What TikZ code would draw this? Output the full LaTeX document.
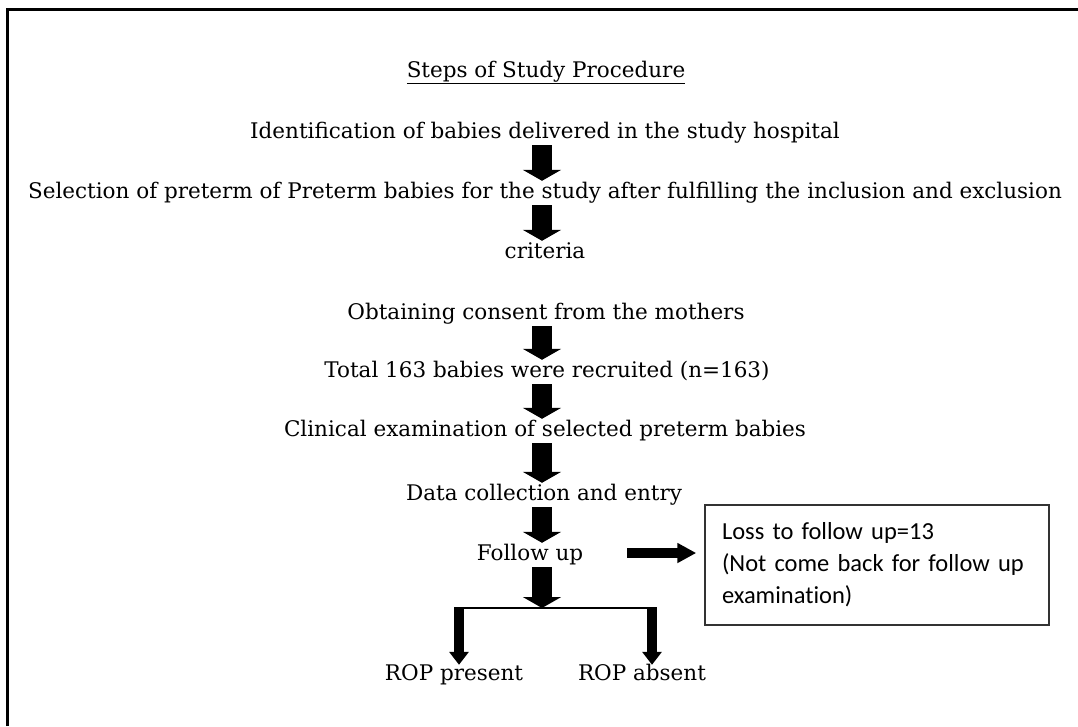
\documentclass[tikz,border=0pt]{standalone}
\usepackage{fontspec}
\setmainfont{DejaVu Serif}
\newfontfamily\boxfont[Ligatures=NoCommon]{Carlito}
\usetikzlibrary{arrows.meta}
\begin{document}
\begin{tikzpicture}[x=1pt,y=-1pt,
  txt/.style={inner sep=0pt, text height=15pt, text depth=5pt, font=\fontsize{21.5}{26}\selectfont},
  fat/.style={line width=20pt, -{Triangle[width=38pt,length=11pt]}, shorten <=2pt, shorten >=2pt},
  branch/.style={line width=9.5pt, -{Triangle[width=19pt,length=13pt]}},
  side/.style={line width=10pt, -{Triangle[width=19pt,length=19pt]}},
  lossbox/.style={draw=black!80, line width=1.5pt, minimum width=344pt, minimum height=120pt,
    inner xsep=17pt, text width=310pt, align=left, font=\boxfont\fontsize{24.5}{32}\selectfont},
]
\useasboundingbox (0,0) rectangle (1078,726);
\fill[white] (0,0) rectangle (1078,726);
\draw[line width=3pt] (7,726) -- (7,9) -- (1078,9);

\coordinate (ax) at (542,0);
\node[txt] (title) at (546,72) {\underline{Steps of Study Procedure}};
\node[txt] (s1) at (545,133) {Identification of babies delivered in the study hospital};
\node[txt] (s2) at (545,193) {Selection of preterm of Preterm babies for the study after fulfilling the inclusion and exclusion};
\node[txt] (s2b) at (545,253) {criteria};
\node[txt] (s3) at (546,314) {Obtaining consent from the mothers};
\node[txt] (s4) at (547,372) {Total 163 babies were recruited (n=163)};
\node[txt] (s5) at (545,431) {Clinical examination of selected preterm babies};
\node[txt] (s6) at (544,495) {Data collection and entry};
\node[txt] (s7) at (530,555) {Follow up};
\node[txt] (r1) at (454,675) {ROP present};
\node[txt] (r2) at (642,675) {ROP absent};
\node[lossbox] (loss) at (877,565) {Loss to follow up=13\\(Not come back for follow up\\examination)};

\draw[fat] (s1.south -| ax) -- (s2.north -| ax);
\draw[fat] (s2.south -| ax) -- (s2b.north -| ax);
\draw[fat] (s3.south -| ax) -- (s4.north -| ax);
\draw[fat] (s4.south -| ax) -- (s5.north -| ax);
\draw[fat] (s5.south -| ax) -- (s6.north -| ax);
\draw[fat] (s6.south -| ax) -- (s7.north -| ax);
\coordinate (split) at (542,608);
\draw[fat, shorten >=0pt] (s7.south -| ax) -- (split);
\coordinate (bl) at (459,608);
\coordinate (br) at (652,608);
\draw[line width=2pt] ([xshift=-5pt]bl) -- ([xshift=5pt]br);
\draw[branch] (bl) -- (r1.north -| bl);
\draw[branch] (br) -- (r2.north -| br);
\draw[side] ([xshift=44pt,yshift=2pt]s7.east) -- ([xshift=-8pt,yshift=2pt]s7.east -| loss.west);
\end{tikzpicture}
\end{document}
